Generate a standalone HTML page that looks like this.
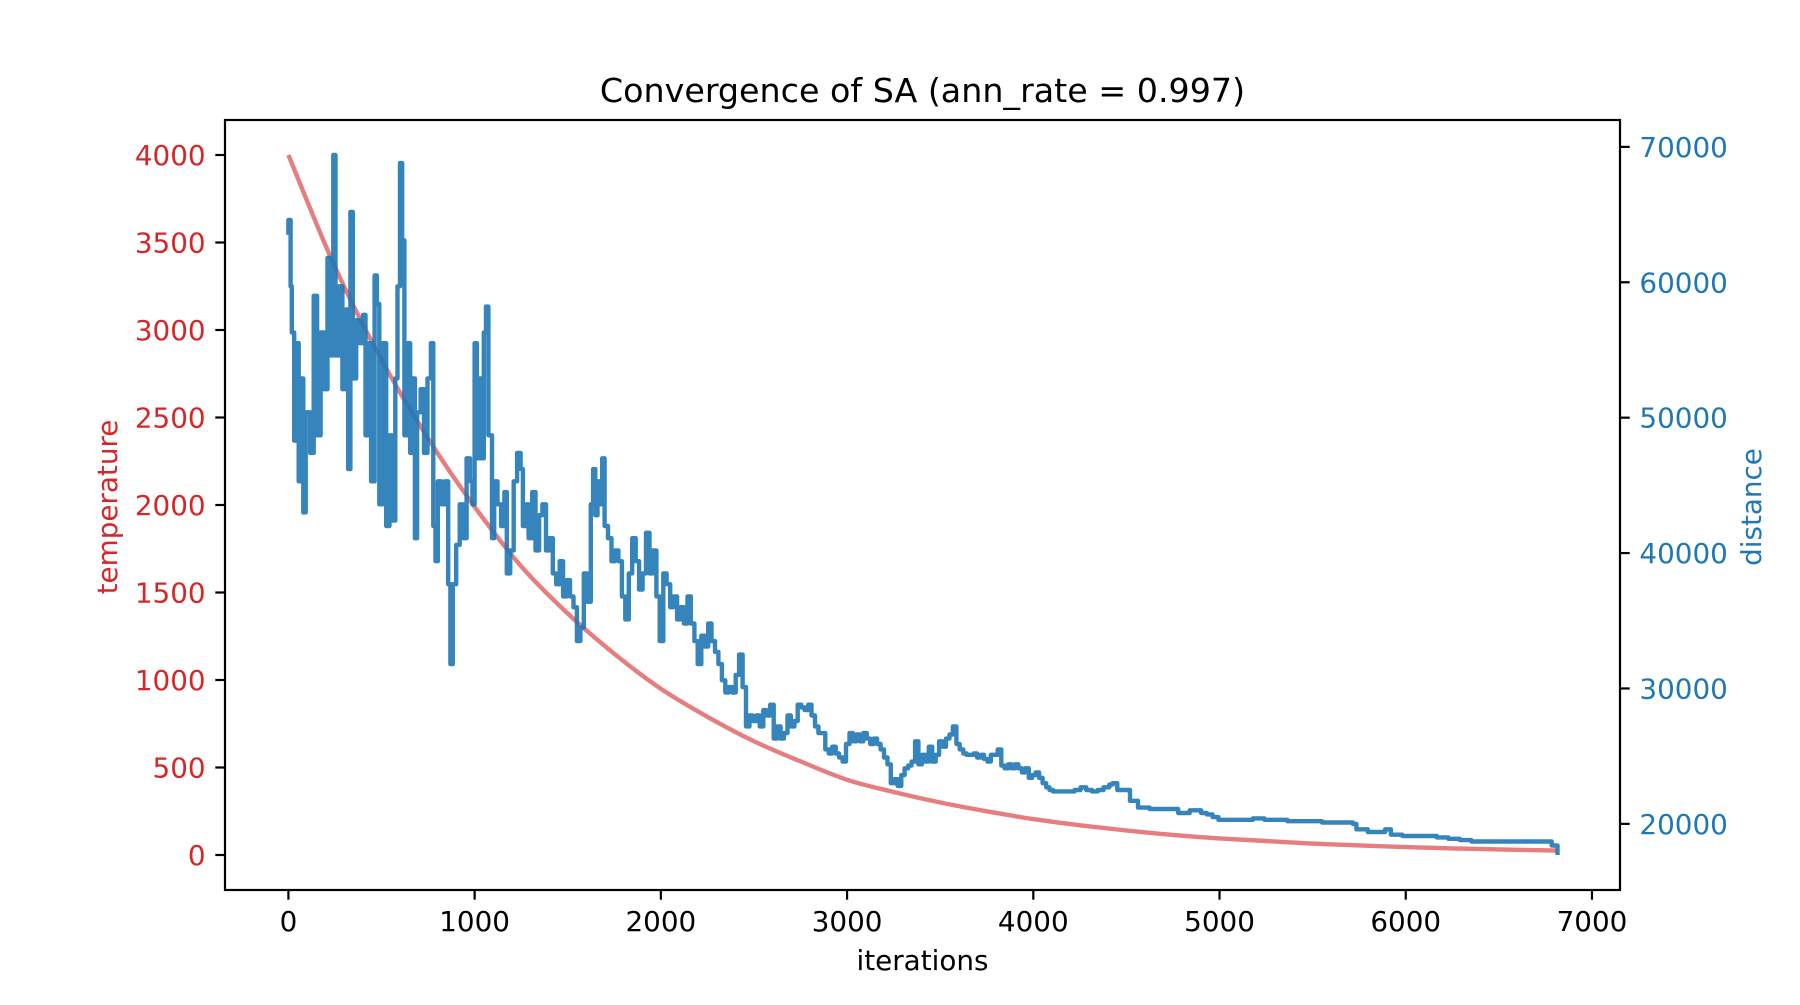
<!DOCTYPE html>
<html><head><meta charset="utf-8"><style>
html,body{margin:0;padding:0;background:#fff}
svg text{font-family:"DejaVu Sans","Liberation Sans",sans-serif}
</style></head><body>
<svg id="chart" width="1800" height="1000" xmlns="http://www.w3.org/2000/svg">
<rect width="1800" height="1000" fill="#fff"/>
<text x="922.5" y="102" font-size="33.3" text-anchor="middle" fill="#000">Convergence of SA (ann_rate = 0.997)</text>
<g id="series"></g>
<g id="axes"></g>
<rect x="225" y="120" width="1395" height="770" fill="none" stroke="#000" stroke-width="2.2"/>
<text x="922.5" y="970" font-size="27.8" text-anchor="middle" fill="#000">iterations</text>
<text x="0" y="0" font-size="27.8" text-anchor="middle" fill="#d62728" transform="translate(117,507) rotate(-90)">temperature</text>
<text x="0" y="0" font-size="27.8" text-anchor="middle" fill="#1f77b4" transform="translate(1761,507) rotate(-90)">distance</text>
</svg>
<script>
const xTicks = [0,1000,2000,3000,4000,5000,6000,7000];
const tempTicks = [0,500,1000,1500,2000,2500,3000,3500,4000];
const distTicks = [20000,30000,40000,50000,60000,70000];
const tempIter = [0,250,500,750,1000,1250,1500,1750,2000,2250,2500,2750,3000,3250,3500,3750,4000,4250,4500,4750,5000,5250,5500,5750,6000,6250,6500,6810];
const tempVals = [4000,3360,2830,2380,1990,1650,1380,1150,950,790,650,535,430,360,300,250,205,170,140,115,95,80,65,55,45,38,32,25];
const distIter = [0,0,12,18,31,43,55,68,80,93,117,136,154,173,191,210,222,241,253,272,290,309,321,333,346,364,383,401,414,426,444,463,475,488,506,525,543,556,574,586,599,611,623,642,654,667,679,691,710,728,747,765,778,790,802,821,840,858,870,883,901,920,938,957,975,988,1000,1012,1025,1037,1049,1061,1074,1093,1105,1123,1142,1160,1173,1191,1210,1228,1247,1259,1278,1290,1309,1327,1346,1364,1383,1401,1420,1438,1457,1475,1494,1512,1531,1549,1568,1586,1605,1624,1636,1648,1660,1673,1685,1698,1716,1735,1753,1772,1791,1809,1828,1846,1865,1883,1902,1920,1939,1957,1976,1994,2013,2031,2050,2068,2087,2106,2124,2143,2161,2180,2198,2217,2235,2254,2272,2291,2309,2328,2346,2365,2383,2402,2420,2439,2457,2476,2494,2513,2531,2550,2568,2587,2606,2624,2643,2661,2680,2698,2717,2735,2754,2772,2791,2809,2828,2846,2865,2883,2902,2920,2939,2957,2976,2994,3013,3031,3050,3068,3087,3106,3124,3143,3161,3180,3198,3217,3235,3254,3272,3291,3309,3328,3346,3365,3383,3402,3420,3439,3457,3476,3494,3513,3531,3550,3568,3587,3605,3624,3642,3661,3680,3698,3717,3735,3754,3772,3791,3809,3828,3846,3865,3883,3902,3920,3939,3957,3976,3994,4013,4031,4050,4069,4087,4106,4161,4192,4222,4254,4284,4315,4346,4377,4408,4426,4451,4500,4519,4562,4624,4716,4778,4840,4901,4932,4963,4994,5056,5118,5179,5241,5303,5364,5426,5488,5550,5611,5673,5716,5735,5796,5858,5889,5920,5982,6105,6167,6229,6291,6352,6476,6599,6754,6784,6815];
const distVals = [63500,64600,59700,56300,48300,55500,45300,52900,43000,50400,47400,59000,48700,56300,52100,61800,54600,69400,54600,59700,52100,58000,46200,65200,52900,57200,55500,57600,48700,55500,45300,60500,58400,43600,55500,42000,48700,42400,52900,59700,68800,63100,48700,55500,47400,52900,41100,50400,52100,47400,52900,55500,42000,39400,45300,43600,45300,37700,31800,37700,40600,43600,41100,47000,45300,43600,55500,47000,52900,47000,56300,58200,48700,41100,45300,43600,42000,44500,38500,40200,45300,47400,46200,42000,43600,41100,44500,40200,42800,43600,40200,41100,38500,37700,39400,36800,38000,36800,36000,33500,34500,38500,36400,43600,46200,42800,45300,43600,47000,42000,41100,39400,40200,39400,36800,35100,38500,41100,39400,37300,38500,41500,38500,40200,36800,33500,38500,37700,36000,36800,35100,36000,34800,36800,34800,33500,31800,33900,33100,34800,33500,32700,31800,30600,29700,30100,29700,31000,32500,30100,27200,28000,27600,28000,27200,28400,28000,28800,26300,27200,26300,26700,28000,27200,27600,28800,28600,28400,28800,28000,27200,26700,26700,25500,25200,25700,25200,24900,24600,25900,26700,26100,26600,26100,26700,26300,25900,26300,25900,25500,24900,24400,23000,23300,22800,23600,24100,24300,24600,26100,24400,25100,24600,25700,24600,25100,26100,25700,26300,26600,27200,25900,25500,25200,25100,25100,25200,24900,25100,24800,24600,25100,25100,25500,24300,24100,24400,24100,24400,24100,23800,24100,23400,23600,23800,23400,23000,22700,22500,22400,22400,22400,22500,22700,22500,22400,22500,22700,22900,23000,22500,22500,21700,21200,21100,21100,20800,21000,20800,20700,20500,20300,20300,20300,20400,20300,20300,20200,20200,20200,20100,20100,20100,20000,19600,19400,19400,19600,19200,19100,19100,19000,18900,18800,18700,18700,18700,18700,18400,17700];

const L=225,R=1620,T=120,B=890;
const NS='http://www.w3.org/2000/svg';
const xMin=-340.5,xMax=7150.5, tMin=-200,tMax=4200;
const dMin=Math.min(...distVals),dMax=Math.max(...distVals),dPad=(dMax-dMin)*0.05;
const d0=dMin-dPad,d1=dMax+dPad;
const xS=v=>L+(v-xMin)/(xMax-xMin)*(R-L);
const tS=v=>B-(v-tMin)/(tMax-tMin)*(B-T);
const dS=v=>B-(v-d0)/(d1-d0)*(B-T);
function mk(tag,attrs,parent){const e=document.createElementNS(NS,tag);for(const k in attrs)e.setAttribute(k,attrs[k]);parent.appendChild(e);return e;}
const series=document.getElementById('series'), axes=document.getElementById('axes');

const tpts=tempIter.map((x,i)=>[xS(x),tS(tempVals[i])]);
let td='M'+tpts[0][0].toFixed(1)+','+tpts[0][1].toFixed(1);
for(let i=0;i<tpts.length-1;i++){
 const p0=tpts[Math.max(0,i-1)],p1=tpts[i],p2=tpts[i+1],p3=tpts[Math.min(tpts.length-1,i+2)];
 const c1=[p1[0]+(p2[0]-p0[0])/6,p1[1]+(p2[1]-p0[1])/6];
 const c2=[p2[0]-(p3[0]-p1[0])/6,p2[1]-(p3[1]-p1[1])/6];
 td+=' C'+c1[0].toFixed(1)+','+c1[1].toFixed(1)+' '+c2[0].toFixed(1)+','+c2[1].toFixed(1)+' '+p2[0].toFixed(1)+','+p2[1].toFixed(1);
}
const tp=mk('path',{d:td,fill:'none',stroke:'#d62728','stroke-opacity':'0.6','stroke-width':'4.4'},series);



let dd='M'+xS(distIter[0]).toFixed(1)+','+dS(distVals[0]).toFixed(1);
for(let i=1;i<distIter.length;i++){
 dd+=' H'+xS(distIter[i]).toFixed(1)+' V'+dS(distVals[i]).toFixed(1);
}
const dp=mk('path',{d:dd,fill:'none',stroke:'#1f77b4','stroke-opacity':'0.9','stroke-width':'4.4','stroke-linejoin':'round'},series);



xTicks.forEach(v=>{const x=xS(v);
 const l=mk('line',{x1:x,x2:x,y1:B,y2:B+9.7,stroke:'#000','stroke-width':'2.2'},axes);
 
 
 const t=mk('text',{x:x,y:B+41,'font-size':'27.8','text-anchor':'middle',fill:'#000'},axes);t.textContent=v;
 
 
});
tempTicks.forEach(v=>{const y=tS(v);
 const l=mk('line',{x1:L-9.7,x2:L,y1:y,y2:y,stroke:'#000','stroke-width':'2.2'},axes);
 
 
 const t=mk('text',{x:L-19.4,y:y+10,'font-size':'27.8','text-anchor':'end',fill:'#d62728'},axes);t.textContent=v;
 
 
});
distTicks.forEach(v=>{const y=dS(v);
 const l=mk('line',{x1:R,x2:R+9.7,y1:y,y2:y,stroke:'#000','stroke-width':'2.2'},axes);
 
 
 const t=mk('text',{x:R+19.4,y:y+10,'font-size':'27.8','text-anchor':'start',fill:'#1f77b4'},axes);t.textContent=v;
 
 
});
</script>
</body></html>
